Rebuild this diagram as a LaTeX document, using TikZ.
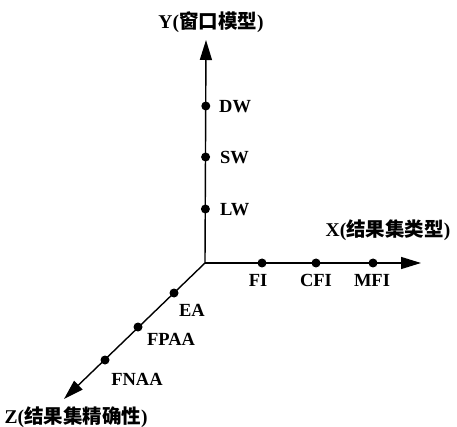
\documentclass[tikz,border=0pt]{standalone}
\usepackage{fontspec}
\setmainfont{Liberation Serif}
\newfontfamily\cjk{Noto Sans CJK SC}
\usetikzlibrary{arrows.meta}
\begin{document}
\begin{tikzpicture}[x=1pt,y=-1pt,
  axis/.style={line width=1.4pt,-{Triangle[length=20pt,width=12pt]}},
  dot/.style={circle,fill=black,inner sep=0pt,minimum size=9pt},
  lbl/.style={font=\fontsize{18.5}{20}\selectfont\bfseries,inner sep=0pt},
  axlbl/.style={font=\fontsize{19.5}{21}\selectfont\bfseries,inner sep=0pt}]
\useasboundingbox (0,0) rectangle (457,427);
\coordinate (O) at (205,263);
\coordinate (ytip) at (206,40);
\coordinate (xtip) at (421,263);
\coordinate (ztip) at (64,399);
\draw[axis] (O) -- (ytip);
\draw[axis] (O) -- (xtip);
\draw[axis] (O) -- (ztip);
% Y points
\node[dot] (DW) at (205.8,106) {};
\node[dot] (SW) at (205.6,157) {};
\node[dot] (LW) at (205.4,209) {};
\node[lbl,anchor=west] (tDW) at (219,107) {DW};
\node[lbl,anchor=west] (tSW) at (220,158) {SW};
\node[lbl,anchor=west] (tLW) at (220,210) {LW};
% X points
\node[dot] (FI) at (262,263) {};
\node[dot] (CFI) at (316,263) {};
\node[dot] (MFI) at (373,263) {};
\node[lbl] (tFI) at (258,280) {FI};
\node[lbl] (tCFI) at (316,280) {CFI};
\node[lbl] (tMFI) at (372,280) {MFI};
% Z points
\node[dot] (EA) at (174,293) {};
\node[dot] (FPAA) at (138,327) {};
\node[dot] (FNAA) at (105,360) {};
\node[lbl] (tEA) at (192,310) {EA};
\node[lbl] (tFPAA) at (171,339) {FPAA};
\node[lbl] (tFNAA) at (137,379) {FNAA};
% axis labels
\node[axlbl] (ylab) at (211,22) {Y({\cjk 窗口模型})};
\node[axlbl] (xlab) at (388,230) {X({\cjk 结果集类型})};
\node[axlbl] (zlab) at (76,417) {Z({\cjk 结果集精确性})};
\end{tikzpicture}
\end{document}
